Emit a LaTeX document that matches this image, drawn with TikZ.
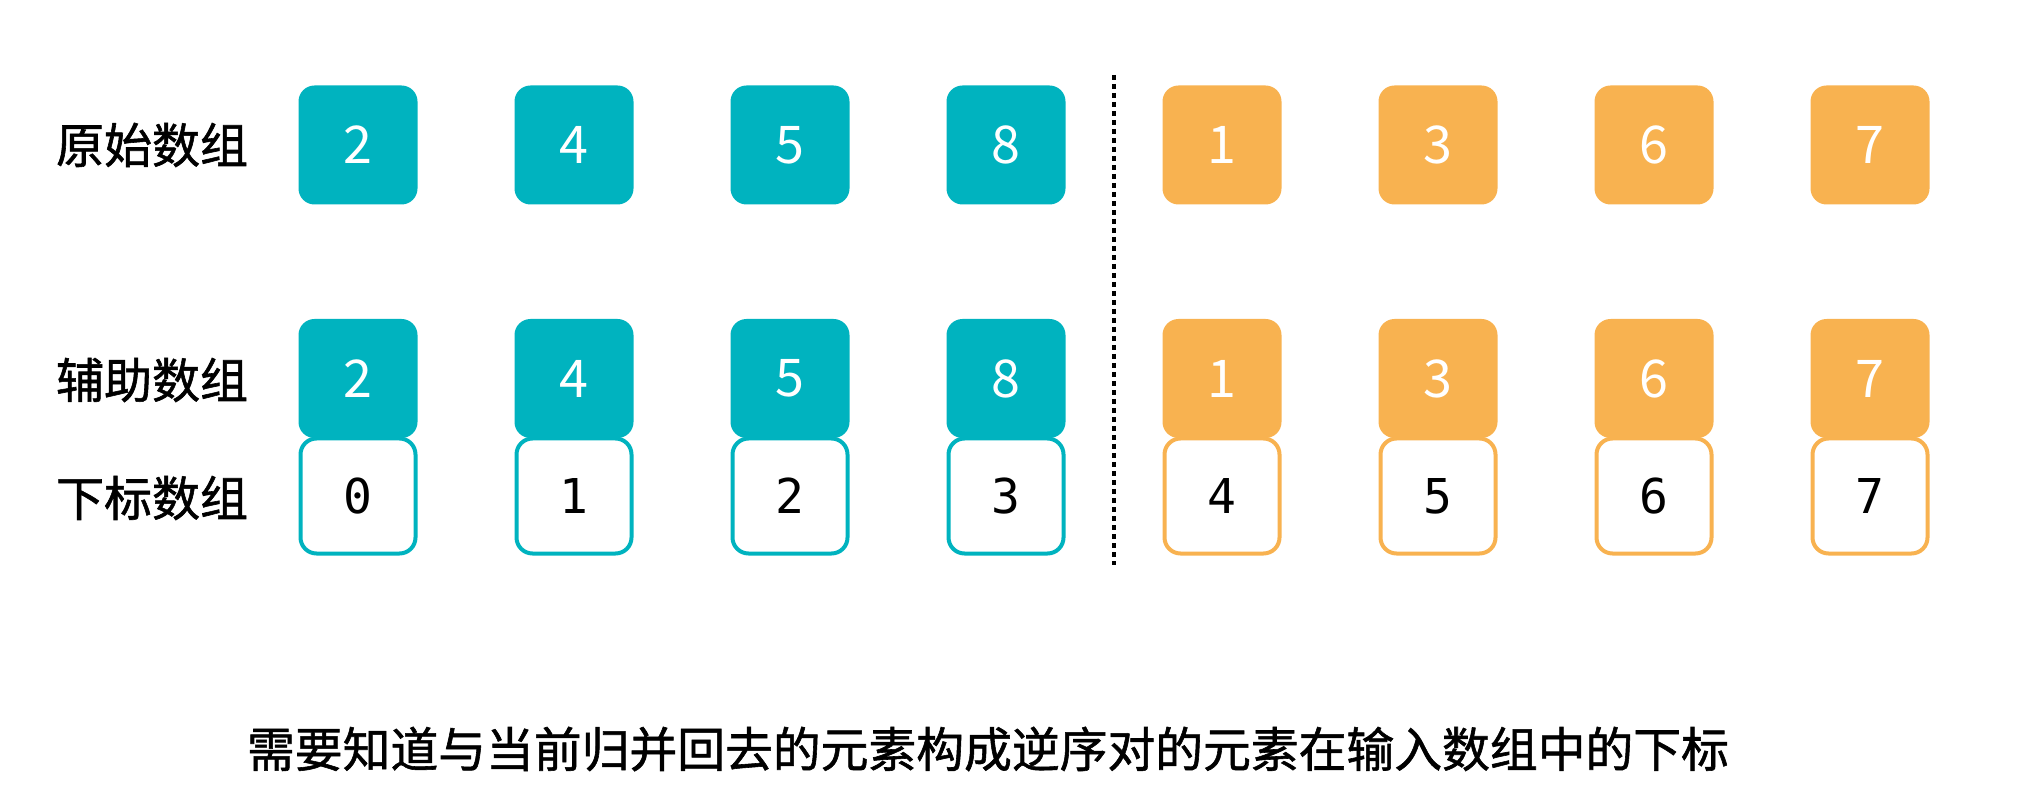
\documentclass[tikz,border=0pt]{standalone}
\usepackage{fontspec}
\setmainfont{Noto Sans CJK SC}
\newfontfamily\labfont{Noto Sans CJK SC}[FakeBold=1.2]
\newfontfamily\idxfont{DejaVu Sans Mono}
\usetikzlibrary{positioning}
\definecolor{lhalf}{HTML}{00B3BF}
\definecolor{rhalf}{HTML}{F8B250}

\begin{document}
\begin{tikzpicture}[
  x=0.5pt, y=-0.5pt,
  lab/.style={anchor=west, font=\labfont\fontsize{24}{28}\selectfont},
  cell/.style={rounded corners=8pt, minimum width=59.5pt, minimum height=59.5pt,
               inner sep=0pt, text=white, font=\fontsize{26}{30}\selectfont},
  idx/.style={cell, draw, line width=2pt, fill=white, text=black,
              minimum width=57.5pt, minimum height=57.5pt,
              font=\idxfont\fontsize{24}{28}\selectfont}]

\useasboundingbox (0,0) rectangle (2032,806);

\node (lorig) [lab] at (49,145) {原始数组};
\node (laux)  [lab] at (49,380) {辅助数组};
\node (lidx)  [lab] at (49,498) {下标数组};

\foreach \v/\c [count=\i] in {2/lhalf,4/lhalf,5/lhalf,8/lhalf,1/rhalf,3/rhalf,6/rhalf,7/rhalf} {
  \node (o\i) [cell, fill=\c] at (142+216*\i,145) {\v};
  \node (a\i) [cell, fill=\c] at (142+216*\i,378.5) {\v};
  \node (i\i) [idx, draw=\c] at (142+216*\i,496) {\the\numexpr\i-1\relax};
}

% split between the two halves
\coordinate (dtop) at (1114,75);
\coordinate (dbot) at (1114,565);
\draw[line width=2pt, dash pattern=on 2.5pt off 2pt] (dtop) -- (dbot);

\node (note) at (988,749) [font=\labfont\fontsize{23.9}{28}\selectfont]
  {需要知道与当前归并回去的元素构成逆序对的元素在输入数组中的下标};
\end{tikzpicture}
\end{document}
